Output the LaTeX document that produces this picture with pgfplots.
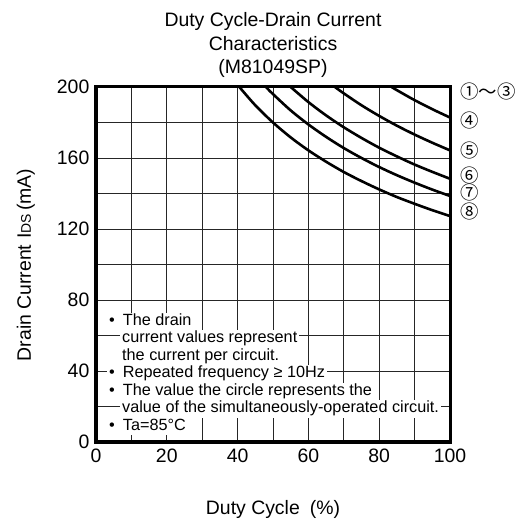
\documentclass[border=0pt]{standalone}
\usepackage{fontspec}
\setmainfont{Liberation Sans}
\newfontfamily\cjk{Noto Sans CJK JP}
\usepackage{pgfplots}
\pgfplotsset{compat=1.18}
\begin{document}
\fontsize{19.5}{23}\selectfont
\begin{tikzpicture}[
  note/.style={anchor=west, fill=white, inner xsep=2bp, inner ysep=0pt,
    text height=12.5bp, text depth=5bp, font=\fontsize{16.3}{17.5}\selectfont},
  lab/.style={anchor=west, inner sep=0pt, xshift=10bp, font=\cjk\fontsize{18.5}{18.5}\selectfont},
]
\path[use as bounding box] (-96bp,-79bp) rectangle (430bp,442bp);
\begin{axis}[
  at={(0,0)}, anchor=south west,
  scale only axis, width=354bp, height=355bp,
  xmin=0, xmax=100, ymin=0, ymax=200,
  xtick={0,20,...,100}, minor xtick={10,30,...,90},
  ytick={0,40,...,200}, minor ytick={20,60,...,180},
  grid=both,
  major grid style={black!85, line width=0.8bp},
  minor grid style={black!85, line width=0.8bp},
  major tick length=0pt, minor tick length=0pt,
  axis line style={line width=3bp},
  /pgf/number format/assume math mode=true,
  tick label style={font=\fontsize{19.5}{23}\selectfont},
  clip=false,
]
% curves 1-3 (flat at 200)
\addplot[line width=3bp] coordinates {(0,200) (100,200)};
% curve 4
\addplot[line width=2.6bp, smooth] coordinates {(83.5,200) (85,198.2) (90,192.6) (95,187.5) (100,182.8)};
% curve 5
\addplot[line width=2.6bp, smooth] coordinates {(67.5,200) (70,196.4) (75,189.7) (80,183.7) (85,178.2) (90,173.2) (95,168.6) (100,164.3)};
% curve 6
\addplot[line width=2.6bp, smooth] coordinates {(55,200) (60,191.5) (65,184.0) (70,177.3) (75,171.3) (80,165.8) (85,160.9) (90,156.3) (95,152.2) (100,148.3)};
% curve 7
\addplot[line width=2.6bp, smooth] coordinates {(48,200) (50,196.0) (55,186.8) (60,178.9) (65,171.9) (70,165.6) (75,160.0) (80,154.9) (85,150.3) (90,146.1) (95,142.2) (100,138.6)};
% curve 8
\addplot[line width=2.6bp, smooth] coordinates {(40.5,200) (45,189.7) (50,180.0) (55,171.6) (60,164.3) (65,157.9) (70,152.1) (75,147.0) (80,142.3) (85,138.0) (90,134.2) (95,130.6) (100,127.3)};

\node[note] at (axis cs:0,67.8) [xshift=11bp] {•\hspace{8bp}The drain};
\node[note] at (axis cs:0,58.0) [xshift=24bp] {current values represent};
\node[note] at (axis cs:0,48.2) [xshift=24bp] {the current per circuit.};
\node[note] at (axis cs:0,38.3) [xshift=11bp] {•\hspace{8bp}Repeated frequency ≥ 10Hz};
\node[note] at (axis cs:0,28.5) [xshift=11bp] {•\hspace{8bp}The value the circle represents the};
\node[note] at (axis cs:0,18.6) [xshift=24bp] {value of the simultaneously-operated circuit.};
\node[note] at (axis cs:0,8.7) [xshift=11bp] {•\hspace{8bp}Ta=85°C};

\node[lab] at (axis cs:100,197.2) {①〜③};
\node[lab] at (axis cs:100,181.4) {④};
\node[lab] at (axis cs:100,164.5) {⑤};
\node[lab] at (axis cs:100,149.9) {⑥};
\node[lab] at (axis cs:100,140.3) {⑦};
\node[lab] at (axis cs:100,129.6) {⑧};
\end{axis}
\node[anchor=base] at (177bp,415bp) {Duty Cycle-Drain Current};
\node[anchor=base] at (177bp,391.5bp) {Characteristics};
\node[anchor=base] at (177bp,368bp) {(M81049SP)};
\node[anchor=base] at (177bp,-72bp) {Duty Cycle\hspace{10bp}(\%)};
\node[anchor=base, rotate=90] at (-65bp,177bp) {Drain Current\hspace{6bp}I{\fontsize{14}{14}\selectfont DS}\hspace{3bp}(mA)};
\end{tikzpicture}
\end{document}
